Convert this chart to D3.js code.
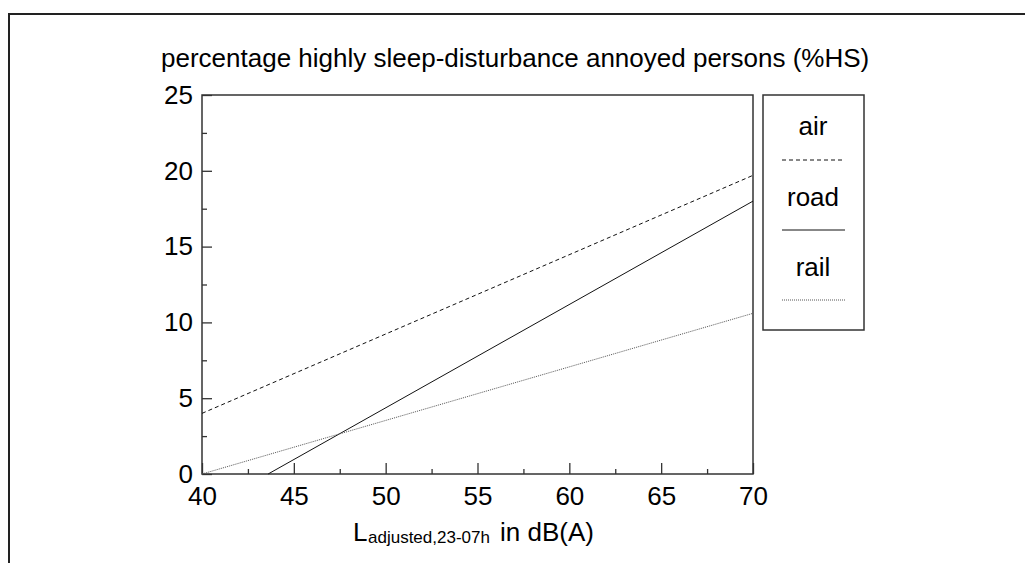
<!DOCTYPE html>
<html>
<head>
<meta charset="utf-8">
<script src="https://cdn.jsdelivr.net/npm/d3@7"></script>
<style>
  body { margin: 0; background: #fff; }
  text { font-family: "Liberation Sans", Arial, sans-serif; fill: #000; }
</style>
</head>
<body>
<div id="chart-area"></div>
<script>
// data
var xTicks = [40, 45, 50, 55, 60, 65, 70];
var yTicks = [0, 5, 10, 15, 20, 25];
var series = ["air", "road", "rail"];
var airLevel = [40, 70];
var airValue = [4.0, 19.7];
var roadLevel = [43.6, 70];
var roadValue = [0, 18.0];
var railLevel = [40, 70];
var railValue = [0, 10.6];

var dashes = { air: "4,3", road: null, rail: "1,1" };

var margins = { left: 202, top: 95, right: 1025 - 753, bottom: 563 - 474 };
var width = 1025 - margins.left - margins.right;
var height = 563 - margins.top - margins.bottom;

var svg = d3.select("#chart-area").append("svg")
    .attr("width", 1025)
    .attr("height", 563);

// outer frame (only top & left visible)
svg.append("rect")
    .attr("x", 9).attr("y", 14)
    .attr("width", 1100).attr("height", 700)
    .attr("fill", "none")
    .attr("stroke", "#222")
    .attr("stroke-width", 2);

svg.append("text")
    .attr("x", 161)
    .attr("y", 67)
    .attr("font-size", "26px")
    .text("percentage highly sleep-disturbance annoyed persons (%HS)");

var g = svg.append("g")
    .attr("transform", "translate(" + margins.left + "," + margins.top + ")");

var x = d3.scaleLinear().domain([40, 70]).range([0, width]);
var y = d3.scaleLinear().domain([0, 25]).range([height, 0]);

// minor ticks
var xMinor = xTicks.slice(0, -1).map(function(d) { return d + 2.5; });
var yMinor = yTicks.slice(0, -1).map(function(d) { return d + 2.5; });

g.append("g")
    .attr("transform", "translate(0," + height + ")")
    .call(d3.axisBottom(x).tickValues(xMinor).tickSize(-5).tickFormat(""))
    .call(function(a) { a.select(".domain").remove(); });
g.append("g")
    .call(d3.axisLeft(y).tickValues(yMinor).tickSize(-5).tickFormat(""))
    .call(function(a) { a.select(".domain").remove(); });

var xAxis = g.append("g")
    .attr("transform", "translate(0," + height + ")")
    .call(d3.axisBottom(x).tickValues(xTicks).tickSize(-11).tickPadding(13).tickFormat(d3.format("d")));

var yAxis = g.append("g")
    .call(d3.axisLeft(y).tickValues(yTicks).tickSize(-10).tickPadding(9).tickFormat(d3.format("d")));

g.selectAll(".tick text")
    .attr("font-size", "26px")
    .attr("font-family", "Liberation Sans, Arial, sans-serif")
    .attr("fill", "#000");

g.selectAll(".domain").remove();
g.selectAll(".tick line").attr("stroke", "#333").attr("stroke-width", 1.3);

// plot frame
g.append("rect")
    .attr("width", width).attr("height", height)
    .attr("fill", "none")
    .attr("stroke", "#333")
    .attr("stroke-width", 1.5);

var line = d3.line()
    .x(function(d) { return x(d[0]); })
    .y(function(d) { return y(d[1]); });

var lineData = {
    air: d3.zip(airLevel, airValue),
    road: d3.zip(roadLevel, roadValue),
    rail: d3.zip(railLevel, railValue)
};

series.forEach(function(s) {
    g.append("path")
        .datum(lineData[s])
        .attr("d", line)
        .attr("fill", "none")
        .attr("stroke", s == "rail" ? "#555" : "#111")
        .attr("stroke-width", 1)
        .attr("stroke-dasharray", dashes[s]);
});

// x axis title
var xt = svg.append("g").attr("transform", "translate(353,541)");
xt.append("text")
    .attr("font-size", "26px")
    .text("L");
xt.append("text")
    .attr("x", 15).attr("y", 2)
    .attr("font-size", "17px")
    .text("adjusted,23-07h");
xt.append("text")
    .attr("x", 147)
    .attr("font-size", "26px")
    .text("in dB(A)");

// legend
var leg = svg.append("g").attr("transform", "translate(763,95)");
leg.append("rect")
    .attr("width", 101).attr("height", 235)
    .attr("fill", "none")
    .attr("stroke", "#333")
    .attr("stroke-width", 1.5);

series.forEach(function(s, i) {
    leg.append("text")
        .attr("x", 50)
        .attr("y", 40 + i * 70.5)
        .attr("font-size", "26px")
        .attr("text-anchor", "middle")
        .text(s);
    leg.append("line")
        .attr("x1", 19).attr("x2", 82)
        .attr("y1", 65 + i * 70).attr("y2", 65 + i * 70)
        .attr("stroke", s == "rail" ? "#555" : "#111")
        .attr("stroke-width", 1)
        .attr("stroke-dasharray", dashes[s]);
});
</script>
</body>
</html>
